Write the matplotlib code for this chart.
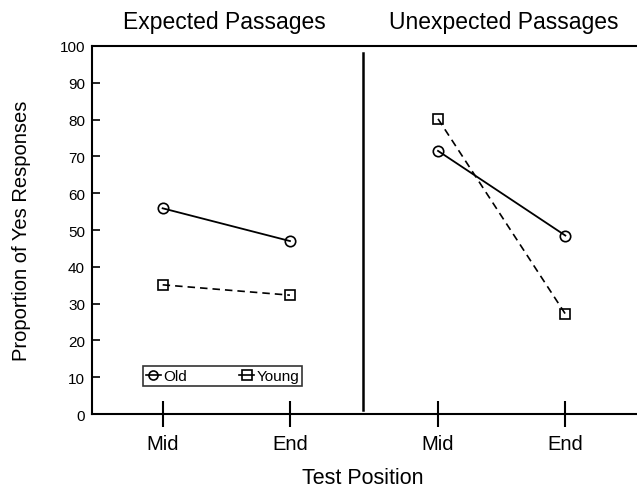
import matplotlib.pyplot as plt
from matplotlib.lines import Line2D

plt.rcParams['font.family'] = ['Liberation Sans', 'DejaVu Sans']

# data
positions = ['Mid', 'End']
old_expected = [55.9, 47.0]
young_expected = [35.1, 32.3]
old_unexpected = [71.5, 48.5]
young_unexpected = [80.2, 27.2]
panels = ['Expected Passages', 'Unexpected Passages']

x_left = [1, 2]
x_right = [3.163, 4.163]

fig = plt.figure(figsize=(6.37, 4.89), dpi=100)
ax = fig.add_axes([0.1444, 0.1513, 0.8556, 0.7526])

solid = dict(color='black', lw=1.3, marker='o', ms=7.5, mfc='none', mec='black', mew=1.2)
dashed = dict(color='black', lw=1.2, ls='--', dashes=(4.5, 3), marker='s', ms=7.5,
              mfc='none', mec='black', mew=1.2)

ax.plot(x_left, old_expected, **solid)
ax.plot(x_left, young_expected, **dashed)
ax.plot(x_right, old_unexpected, **solid)
ax.plot(x_right, young_unexpected, **dashed)

# divider between the two panels
ax.plot([2.571, 2.571], [1, 98], color='black', lw=1.8)

ax.set_xlim(0.445, 4.726)
ax.set_ylim(0, 100)
ax.set_yticks(range(0, 101, 10))
ax.tick_params(axis='y', direction='in', length=6, width=1.2, labelsize=11, pad=5)
ax.set_xticks(x_left + x_right)
ax.set_xticklabels(positions + positions)
ax.tick_params(axis='x', direction='inout', length=19, width=1.5, labelsize=14.5, pad=5)

for s in ['left', 'bottom', 'top']:
    ax.spines[s].set_linewidth(1.5)
ax.spines['right'].set_visible(False)

ax.set_ylabel('Proportion of Yes Responses', fontsize=14.5)
ax.yaxis.set_label_coords(-0.112, 0.5)
ax.set_xlabel('Test Position', fontsize=15.5)
ax.xaxis.set_label_coords(0.497, -0.145)

fig.text(224 / 637, 1 - 22 / 489, panels[0], ha='center', va='center', fontsize=16.5)
fig.text(504 / 637, 1 - 22 / 489, panels[1], ha='center', va='center', fontsize=16.5)

handles = [
    Line2D([], [], color='black', lw=1.2, marker='o', ms=6.5, mfc='none', mew=1.2),
    Line2D([], [], color='black', lw=1.2, marker='s', ms=6.5, mfc='none', mew=1.2),
]
leg = ax.legend(handles, ['Old', 'Young'], loc='lower left', bbox_to_anchor=(0.093, 0.075),
                ncol=2, fontsize=11, frameon=True, fancybox=False, handlelength=1.0,
                handletextpad=0.15, columnspacing=3.4, borderpad=0.2, borderaxespad=0)
leg.get_frame().set_edgecolor('black')
leg.get_frame().set_linewidth(1.2)

fig.savefig('out.png', dpi=100)
